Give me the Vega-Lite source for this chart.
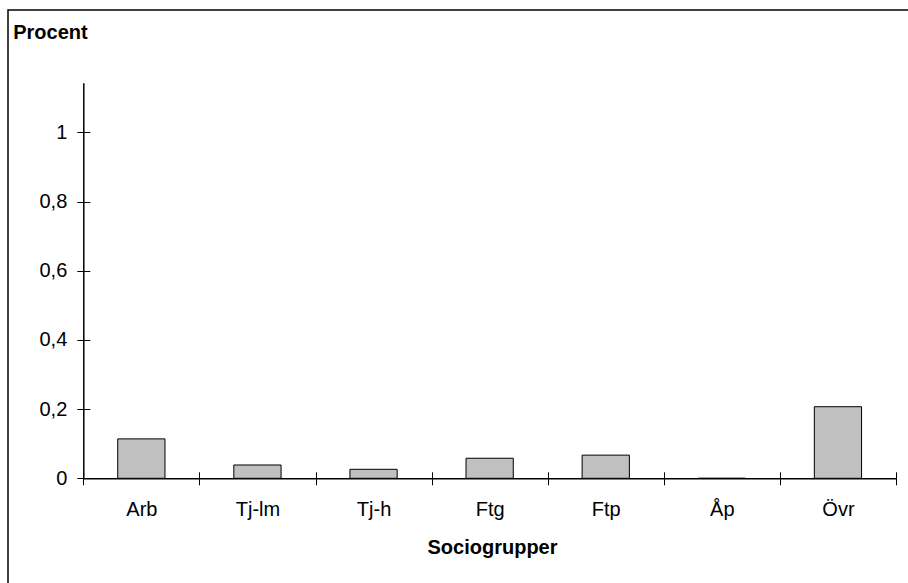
{
  "$schema": "https://vega.github.io/schema/vega-lite/v6.json",
  "autosize": "none",
  "padding": {"left": 8, "top": 10, "right": 0, "bottom": 0},
  "width": 910,
  "height": 585,
  "background": "white",
  "config": {
    "font": "Liberation Sans",
    "view": {"stroke": "black", "strokeWidth": 1.5, "fill": "white"}
  },
  "data": {
    "values": [
      {"grupp": "Arb", "procent": 0.114},
      {"grupp": "Tj-lm", "procent": 0.0385},
      {"grupp": "Tj-h", "procent": 0.026},
      {"grupp": "Ftg", "procent": 0.058},
      {"grupp": "Ftp", "procent": 0.067},
      {"grupp": "Åp", "procent": 0},
      {"grupp": "Övr", "procent": 0.207}
    ]
  },
  "resolve": {"axis": {"x": "independent", "y": "independent"}},
  "layer": [
    {
      "mark": {"type": "bar", "fill": "#c0c0c0", "stroke": "black", "strokeWidth": 1, "width": {"band": 0.407}},
      "encoding": {
        "x": {
          "field": "grupp",
          "type": "nominal",
          "sort": null,
          "scale": {"range": [75.3, 888], "paddingInner": 0, "paddingOuter": 0},
          "axis": {
            "orient": "bottom",
            "offset": -116.7,
            "title": "Sociogrupper",
            "titleFontSize": 20,
            "titleFontWeight": "bold",
            "titleColor": "black",
            "titleX": 484,
            "titleY": 74.7,
            "titleBaseline": "alphabetic",
            "titleAlign": "center",
            "labelAngle": 0,
            "labelFontSize": 20,
            "labelColor": "black",
            "labelPadding": 15,
            "tickBand": "extent",
            "tickSize": 6.5,
            "tickColor": "black",
            "domainColor": "black",
            "domainWidth": 1.5,
            "grid": false
          }
        },
        "y": {
          "field": "procent",
          "type": "quantitative",
          "scale": {"domain": [0, 1.144], "range": [468.3, 72.7], "nice": false},
          "axis": {
            "orient": "left",
            "offset": -75.3,
            "values": [0, 0.2, 0.4, 0.6, 0.8, 1],
            "format": "~g",
            "labelExpr": "replace(datum.label, '.', ',')",
            "labelFontSize": 20,
            "labelColor": "black",
            "labelPadding": 10,
            "tickSize": 6.5,
            "tickColor": "black",
            "domainColor": "black",
            "domainWidth": 1.5,
            "grid": false,
            "title": "Procent",
            "titleAngle": 0,
            "titleAlign": "left",
            "titleBaseline": "alphabetic",
            "titleX": -70.6,
            "titleY": 28.3,
            "titleFontSize": 20,
            "titleFontWeight": "bold",
            "titleColor": "black"
          }
        }
      }
    },
    {
      "mark": {"type": "bar", "opacity": 0, "width": {"band": 0.407}},
      "encoding": {
        "x": {
          "field": "grupp",
          "type": "nominal",
          "sort": null,
          "axis": {
            "orient": "bottom",
            "offset": -123.2,
            "title": null,
            "labels": false,
            "domain": false,
            "tickBand": "extent",
            "tickSize": 6.5,
            "tickColor": "black",
            "grid": false
          }
        },
        "y": {
          "field": "procent",
          "type": "quantitative",
          "axis": {
            "orient": "left",
            "offset": -81.8,
            "values": [0, 0.2, 0.4, 0.6, 0.8, 1],
            "title": null,
            "labels": false,
            "domain": false,
            "tickSize": 6.5,
            "tickColor": "black",
            "grid": false
          }
        }
      }
    }
  ]
}
